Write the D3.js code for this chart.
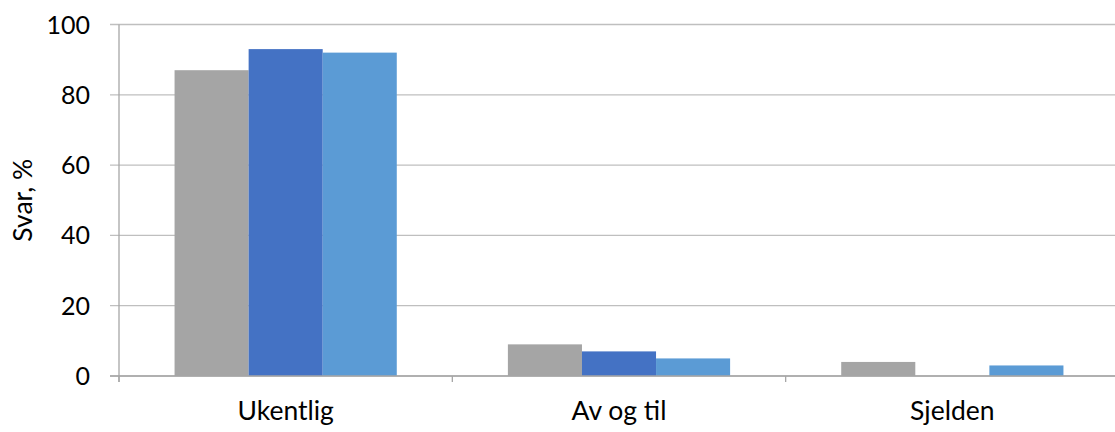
<!DOCTYPE html>
<html>
<head>
<meta charset="utf-8">
<script src="https://cdn.jsdelivr.net/npm/d3@7"></script>
<style>
  html, body { margin: 0; padding: 0; background: #fff; }
  svg { display: block; font-family: Lato, "Open Sans", sans-serif; }
</style>
</head>
<body>
<svg id="chart" width="1115" height="432"></svg>
<script>
// Answer categories and series values (percent)
const categories = ["Ukentlig", "Av og til", "Sjelden"];
const seriesNames = ["Serie 1", "Serie 2", "Serie 3"];
const serie1 = [87, 9, 4];
const serie2 = [93, 7, 0];
const serie3 = [92, 5, 3];
const yTicks = [0, 20, 40, 60, 80, 100];
const yTitle = "Svar, %";

const colors = ["#A5A5A5", "#4472C4", "#5B9BD5"];
const seriesValues = [serie1, serie2, serie3];

const svg = d3.select("#chart");
const plotLeft = 119, plotRight = 1119, plotTop = 24.5, plotBottom = 376;

const x = d3.scaleBand().domain(categories).range([plotLeft, plotRight]).paddingInner(0).paddingOuter(0);
const y = d3.scaleLinear().domain([0, 100]).range([plotBottom, plotTop]);

// Bars: gap width 150% of a bar, as in a clustered column chart
const barW = x.bandwidth() / (seriesNames.length + 1.5);
const inner = d3.scaleBand().domain(seriesNames)
  .range([0, barW * seriesNames.length]);

// Horizontal gridlines with tick marks left of the axis
const grid = svg.append("g");
grid.selectAll("line").data(yTicks).join("line")
  .attr("x1", plotLeft - 9).attr("x2", plotRight)
  .attr("y1", d => y(d)).attr("y2", d => y(d))
  .attr("stroke", "#BFBFBF").attr("stroke-width", 1.3);

// Bars
const groups = svg.append("g").selectAll("g").data(categories).join("g")
  .attr("transform", c => `translate(${x(c) + (x.bandwidth() - barW * seriesNames.length) / 2},0)`);
groups.selectAll("rect")
  .data((c, i) => seriesNames.map((s, j) => ({ s, v: seriesValues[j][i], j })))
  .join("rect")
  .attr("x", d => inner(d.s))
  .attr("width", inner.bandwidth())
  .attr("y", d => y(d.v))
  .attr("height", d => y(0) - y(d.v))
  .attr("fill", d => colors[d.j]);

// Axes lines
svg.append("line")
  .attr("x1", plotLeft).attr("x2", plotLeft).attr("y1", plotTop).attr("y2", plotBottom + 6)
  .attr("stroke", "#A6A6A6").attr("stroke-width", 1.3);
svg.append("line")
  .attr("x1", plotLeft - 9).attr("x2", plotRight).attr("y1", plotBottom).attr("y2", plotBottom)
  .attr("stroke", "#A6A6A6").attr("stroke-width", 1.3);

// Category boundary tick marks
const bounds = categories.map(c => x(c)).concat([plotRight]);
svg.append("g").selectAll("line").data(bounds).join("line")
  .attr("x1", d => d).attr("x2", d => d)
  .attr("y1", plotBottom).attr("y2", plotBottom + 6)
  .attr("stroke", "#A6A6A6").attr("stroke-width", 1.3);

// Y tick labels
svg.append("g").selectAll("text").data(yTicks).join("text")
  .attr("x", 90).attr("y", d => y(d))
  .attr("dy", "0.36em")
  .attr("text-anchor", "end")
  .attr("font-size", 25)
  .attr("fill", "#000")
  .text(d => d);

// Category labels
svg.append("g").selectAll("text").data(categories).join("text")
  .attr("x", c => x(c) + x.bandwidth() / 2).attr("y", 420)
  .attr("text-anchor", "middle")
  .attr("font-size", 26.5)
  .attr("fill", "#000")
  .text(c => c);

// Y axis title
svg.append("text")
  .attr("transform", `translate(32,${(plotTop + plotBottom) / 2}) rotate(-90)`)
  .attr("text-anchor", "middle")
  .attr("font-size", 26.5)
  .attr("fill", "#000")
  .text(yTitle);
</script>
</body>
</html>
